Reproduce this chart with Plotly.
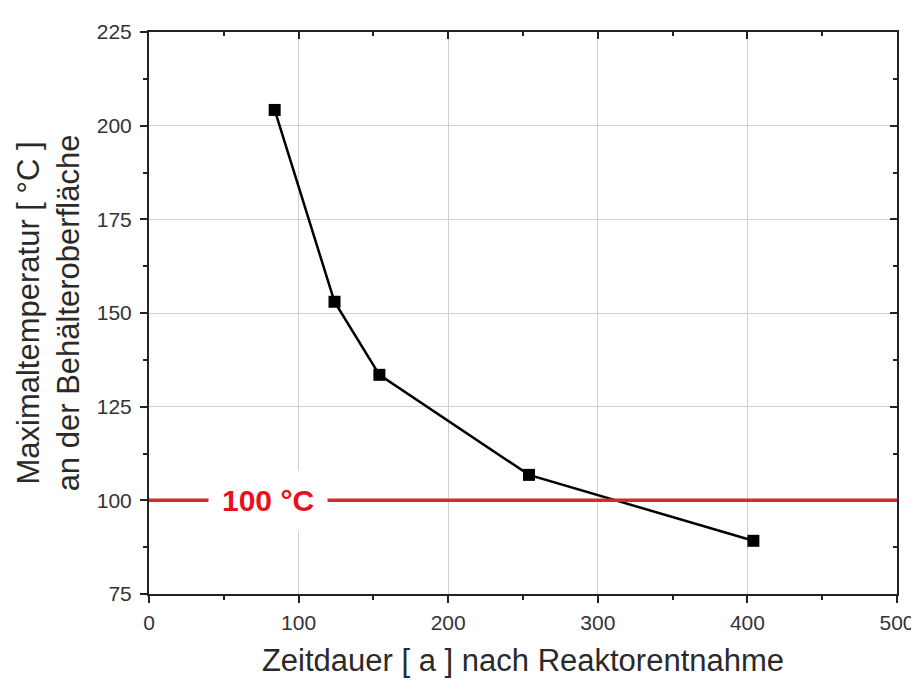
import plotly.graph_objects as go

years = [84, 124, 154, 254, 404]
temps = [204.2, 153.0, 133.5, 106.8, 89.2]
limit_temp = 100
limit_label = "100 °C"
x_ticks = [0, 100, 200, 300, 400, 500]
y_ticks = [75, 100, 125, 150, 175, 200, 225]

font_family = "Liberation Sans, Arial, sans-serif"
txt = "#2a2a2a"

fig = go.Figure()
fig.add_trace(go.Scatter(
    x=years, y=temps, mode="lines+markers",
    line=dict(color="black", width=2.5),
    marker=dict(symbol="square", size=12, color="black"),
    showlegend=False, hoverinfo="skip"))

fig.add_shape(type="line", xref="x", yref="y", x0=0, x1=500, y0=limit_temp, y1=limit_temp,
              line=dict(color="#d42a30", width=3.5), layer="above")
fig.add_annotation(x=79.5, y=limit_temp, xref="x", yref="y", text=f"<b>{limit_label}</b>",
                   showarrow=False, font=dict(color="#e8101c", size=30, family=font_family),
                   bgcolor="white", borderpad=13, xanchor="center", yanchor="middle")

axis_common = dict(showline=True, linecolor="#222", linewidth=2, ticks="outside",
                   ticklen=7, tickwidth=2, tickcolor="#222",
                   tickfont=dict(size=21, color="#333", family=font_family),
                   showgrid=True, gridcolor="#d0d0d0", gridwidth=1, zeroline=False,
                   minor=dict(ticks="outside", ticklen=4, tickwidth=2, tickcolor="#222"))

fig.update_xaxes(**axis_common, range=[0, 500], tickvals=x_ticks, dtick=100,
                 minor_dtick=50, ticklabelstandoff=2,
                 title=dict(text="Zeitdauer [ a ] nach Reaktorentnahme",
                            font=dict(size=31, color=txt, family=font_family), standoff=16))
fig.update_yaxes(**axis_common, range=[75, 225], tickvals=y_ticks, dtick=25,
                 minor_dtick=12.5, ticklabelstandoff=4,
                 title=dict(text="Maximaltemperatur [ °C ]<br>an der Behälteroberfläche",
                            font=dict(size=31, color=txt, family=font_family), standoff=8))

fig.update_layout(
    xaxis2=dict(overlaying="x", side="top", range=[0, 500], tickvals=x_ticks, showline=True,
                linecolor="#222", linewidth=2, ticks="inside", ticklen=7, tickwidth=2,
                tickcolor="#222", showticklabels=False, showgrid=False, zeroline=False,
                minor=dict(ticks="inside", ticklen=4, tickwidth=2, tickcolor="#222", dtick=50)),
    yaxis2=dict(overlaying="y", side="right", range=[75, 225], tickvals=y_ticks, showline=True,
                linecolor="#222", linewidth=2, ticks="inside", ticklen=7, tickwidth=2,
                tickcolor="#222", showticklabels=False, showgrid=False, zeroline=False,
                minor=dict(ticks="inside", ticklen=4, tickwidth=2, tickcolor="#222", dtick=12.5)),
)
fig.add_trace(go.Scatter(x=[None], y=[None], xaxis="x2", yaxis="y2", showlegend=False,
                         hoverinfo="skip"))

fig.update_layout(width=919, height=682, plot_bgcolor="white", paper_bgcolor="white",
                  margin=dict(l=141, r=29, t=14, b=96), font=dict(family=font_family))
fig.write_html("out.html")
